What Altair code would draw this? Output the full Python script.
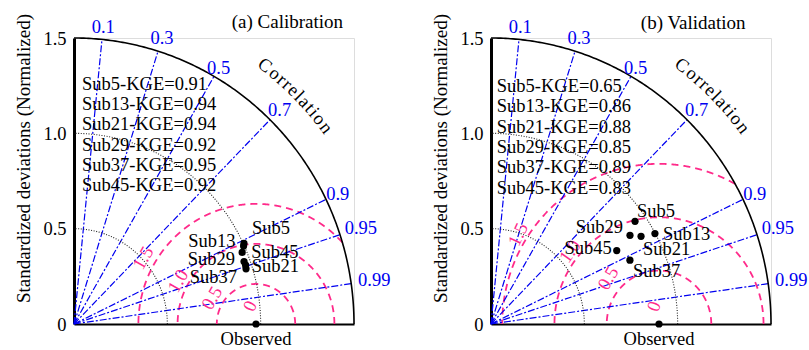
import numpy as np
import pandas as pd
import altair as alt

# ---------------- data ----------------
sub_names = ["Sub5", "Sub13", "Sub21", "Sub29", "Sub37", "Sub45"]
cal_std = [1.004, 0.996, 0.970, 0.968, 0.966, 0.976]
cal_corr = [0.907, 0.912, 0.948, 0.941, 0.954, 0.923]
cal_kge = ["0.91", "0.94", "0.94", "0.92", "0.95", "0.92"]
val_std = [0.941, 0.998, 0.926, 0.878, 0.816, 0.776]
val_corr = [0.820, 0.880, 0.868, 0.848, 0.912, 0.868]
val_kge = ["0.65", "0.86", "0.88", "0.85", "0.89", "0.83"]
obs_std = [0.975, 0.90]
rmsd_levels = [[0.21, 0.42, 0.63], [0.28, 0.56, 0.84]]
rmsd_labels = ["0", "0.5", "1.0", "1.5"]
corr_ticks = [0.1, 0.3, 0.5, 0.7, 0.9, 0.95, 0.99]
corr_tick_labels = ["0.1", "0.3", "0.5", "0.7", "0.9", "0.95", "0.99"]
std_ticks = [0, 0.5, 1.0, 1.5]
std_arcs = [0.5, 1.0]
std_max = 1.5
panel_titles = ["(a) Calibration", "(b) Validation"]
corr_word = "Correlation"

# ---------------- layout / style ----------------
FONT = "Liberation Serif"
FS = 18.5
PINK = "#ff2a8a"
BLUE = "#0000f0"
W, H = 280, 286
corr_label_r = [1.564, 1.572, 1.55, 1.574, 1.57, 1.618, 1.625]
rmsd_label_pos = [
    {"1.5": (0.37, 0.346, 300), "1.0": (0.557, 0.225, 300), "0.5": (0.739, 0.136, 300), "0": (0.943, 0.094, 295)},
    {"1.5": (0.145, 0.469, 295), "1.0": (0.423, 0.381, 305), "0.5": (0.627, 0.24, 300), "0": (0.873, 0.093, 290)},
]
sub_label_off = [
    {"Sub5": ("left", 8, -15), "Sub13": ("right", -8, -5), "Sub45": ("left", 9, 0),
     "Sub29": ("right", -9, -3), "Sub21": ("left", 6, 1), "Sub37": ("right", -9, 8)},
    {"Sub5": ("left", 2, -10), "Sub29": ("right", -7, -8), "Sub13": ("left", 8, 0),
     "Sub21": ("left", 2, 13), "Sub45": ("right", -5, -3), "Sub37": ("left", 3, 11)},
]
kge_pos = [(0.043, 1.26), (0.031, 1.248)]
title_pos = [(1.143, 1.584), (1.083, 1.58)]
corr_word_r = 1.70
corr_word_span = (53.0, 37.3)
letter_w = {"C": .667, "o": .5, "r": .333, "e": .444, "l": .278, "a": .444, "t": .278, "i": .278, "n": .5}

XS = alt.Scale(domain=[0, std_max], nice=False, zero=False)
YS = alt.Scale(domain=[0, std_max], nice=False, zero=False)
XAX = alt.Axis(title=None, labels=False, ticks=False, grid=False, domainColor="black", domainWidth=2)
YAX = alt.Axis(title="Standardized deviations (Normalized)", values=std_ticks, grid=False, ticks=False,
               tickSize=0, labelPadding=8, domainColor="black", domainWidth=3,
               labelExpr="datum.value == 0 ? '0' : format(datum.value, '.1f')",
               labelFont=FONT, labelFontSize=FS, labelColor="black",
               titleFont=FONT, titleFontSize=19, titleFontWeight="normal", titleColor="black",
               titleX=-51, titleY=120, titleAlign="center", titleBaseline="middle", titleAngle=270)


def X(f="x"):
    return alt.X(f"{f}:Q", scale=XS, axis=XAX)


def Y(f="y"):
    return alt.Y(f"{f}:Q", scale=YS, axis=YAX)


def panel(k, std, corr, kge):
    obs = obs_std[k]
    layers = []
    rows = []
    for r, kind in [(std_max, "outer")] + [(a, "std") for a in std_arcs]:
        phi = np.linspace(0, np.pi / 2, 181)
        for i, p in enumerate(phi):
            rows.append({"x": r * np.cos(p), "y": r * np.sin(p), "i": i, "g": f"{kind}{r}", "kind": kind})
    for r in rmsd_levels[k]:
        phi = np.linspace(0, np.pi, 1441)
        for i, p in enumerate(phi):
            x, y = obs + r * np.cos(p), r * np.sin(p)
            if x >= 0 and y >= 0 and x * x + y * y <= std_max ** 2:
                rows.append({"x": x, "y": y, "i": i, "g": f"rmsd{r}", "kind": "rmsd"})
    arcs = pd.DataFrame(rows)

    layers.append(alt.Chart(arcs).transform_filter("datum.kind == 'rmsd'").mark_line(
        color=PINK, strokeWidth=1.8, strokeDash=[7, 5]).encode(x=X(), y=Y(), order="i:Q", detail="g:N"))
    cd = pd.DataFrame({"c": corr_ticks, "lab": corr_tick_labels})
    ang = np.arccos(cd["c"].values)
    cd["x0"] = 0.0
    cd["y0"] = 0.0
    cd["x1"] = std_max * np.cos(ang)
    cd["y1"] = std_max * np.sin(ang)
    cd["lx"] = np.array(corr_label_r) * np.cos(ang)
    cd["ly"] = np.array(corr_label_r) * np.sin(ang)
    layers.append(alt.Chart(cd).mark_rule(color=BLUE, strokeWidth=1.2, strokeDash=[7, 2, 2, 2]).encode(
        x=X("x0"), y=Y("y0"), x2="x1:Q", y2="y1:Q"))
    layers.append(alt.Chart(arcs).transform_filter("datum.kind == 'std'").mark_line(
        color="#222", strokeWidth=1.1, strokeDash=[1, 1.6]).encode(x=X(), y=Y(), order="i:Q", detail="g:N"))
    layers.append(alt.Chart(arcs).transform_filter("datum.kind == 'outer'").mark_line(
        color="black", strokeWidth=1.6).encode(x=X(), y=Y(), order="i:Q", detail="g:N"))
    layers.append(alt.Chart(cd).mark_text(font=FONT, fontSize=FS, color=BLUE, align="center",
                                          baseline="middle").encode(x=X("lx"), y=Y("ly"), text="lab:N"))
    for lab in rmsd_labels:
        px, py, a = rmsd_label_pos[k][lab]
        d = pd.DataFrame({"x": [px], "y": [py], "t": [lab]})
        layers.append(alt.Chart(d).mark_text(font=FONT, fontSize=FS, color=PINK, angle=a,
                                             align="center", baseline="middle").encode(x=X(), y=Y(), text="t:N"))
    ws = [letter_w[c] for c in corr_word]
    cum = np.cumsum(ws) - np.array(ws) / 2
    t = (cum - cum[0]) / (cum[-1] - cum[0])
    phis = corr_word_span[0] + t * (corr_word_span[1] - corr_word_span[0])
    lw = pd.DataFrame({"ch": list(corr_word),
                       "x": corr_word_r * np.cos(np.radians(phis)),
                       "y": corr_word_r * np.sin(np.radians(phis)),
                       "rot": 90 - phis})
    layers.append(alt.Chart(lw).mark_text(font=FONT, fontSize=FS, color="black", align="center",
                                          baseline="middle").encode(
        x=X(), y=Y(), text="ch:N", angle=alt.Angle("rot:Q", scale=None)))
    kt = "\n".join(f"{n}-KGE={v}" for n, v in zip(sub_names, kge))
    kd = pd.DataFrame({"x": [kge_pos[k][0]], "y": [kge_pos[k][1]], "t": [kt]})
    layers.append(alt.Chart(kd).mark_text(font=FONT, fontSize=FS, color="black", align="left",
                                          baseline="middle", lineBreak="\n", lineHeight=20.3).encode(
        x=X(), y=Y(), text="t:N"))
    sd = pd.DataFrame({"name": sub_names, "std": std, "corr": corr})
    sd["x"] = sd["std"] * sd["corr"]
    sd["y"] = sd["std"] * np.sqrt(1 - sd["corr"] ** 2)
    layers.append(alt.Chart(sd).mark_circle(size=52, color="black", opacity=1).encode(x=X(), y=Y()))
    for n in sub_names:
        al, dx, dy = sub_label_off[k][n]
        layers.append(alt.Chart(sd).transform_filter(f"datum.name == '{n}'").mark_text(
            font=FONT, fontSize=FS, color="black", align=al, baseline="middle", dx=dx, dy=dy).encode(
            x=X(), y=Y(), text="name:N"))
    od = pd.DataFrame({"x": [obs], "y": [0.0], "t": ["Observed"]})
    layers.append(alt.Chart(od).mark_circle(size=52, color="black", opacity=1).encode(x=X(), y=Y()))
    layers.append(alt.Chart(od).mark_text(font=FONT, fontSize=FS, color="black", align="center",
                                          baseline="middle", dy=15).encode(x=X(), y=Y(), text="t:N"))
    td = pd.DataFrame({"x": [title_pos[k][0]], "y": [title_pos[k][1]], "t": [panel_titles[k]]})
    layers.append(alt.Chart(td).mark_text(font=FONT, fontSize=19, color="black", align="center",
                                          baseline="middle").encode(x=X(), y=Y(), text="t:N"))
    return alt.layer(*layers).properties(width=W, height=H)


pa = panel(0, cal_std, cal_corr, cal_kge)
pb = panel(1, val_std, val_corr, val_kge)
chart = alt.hconcat(pa, pb, spacing=137, bounds="flush").properties(
    padding={"left": 13, "top": 12, "right": 0, "bottom": 0}
).configure_view(strokeWidth=0).configure(background="white")
chart.save("out.html", embed_options={"renderer": "svg", "actions": False})
